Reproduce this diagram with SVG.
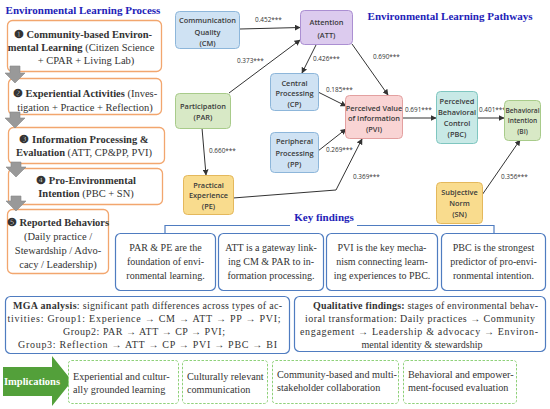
<svg xmlns="http://www.w3.org/2000/svg" width="550" height="409" viewBox="0 0 550 409">
<defs>
<marker id="ah" viewBox="0 0 10 10" refX="9" refY="5" markerWidth="6" markerHeight="6" orient="auto" markerUnits="userSpaceOnUse"><path d="M0,0 L10,5 L0,10 z" fill="#333"/></marker>
<style>
.ttl{font-family:"Liberation Serif",serif;font-weight:bold;fill:#2222b8;font-size:11px;text-anchor:middle}
.proc{fill:#fff;stroke:#f2a66e;stroke-width:1.3}
.pt{font-family:"Liberation Serif","DejaVu Serif",serif;font-size:10.5px;fill:#333;text-anchor:middle}
.b{font-weight:bold}
.garr{fill:#999;stroke:#888;stroke-width:0.6}
.nt{font-family:"Open Sans","Noto Sans",sans-serif;font-weight:600;font-size:7.4px;fill:#3a3a3a;text-anchor:middle}
.cf{font-family:"Open Sans","Noto Sans",sans-serif;font-size:6.4px;fill:#333}
.con{fill:none;stroke:#333;stroke-width:1;marker-end:url(#ah)}
.fb{fill:#fff;stroke:#4f7cc0;stroke-width:1.2}
.ft{font-family:"Liberation Serif",serif;font-size:10px;fill:#333;text-anchor:middle}
.ib{fill:#fff;stroke:#8fd17a;stroke-width:1;stroke-dasharray:2.5,1.5}
.it{font-family:"Liberation Serif",serif;font-size:10.2px;fill:#333}
.blue{fill:#cfe2f3;stroke:#8db6da}
.purp{fill:#dccbee;stroke:#ab8fd2}
.grn{fill:#d8e9c6;stroke:#a8cb8a}
.pink{fill:#f9d4d4;stroke:#e3a0a0}
.teal{fill:#c8e9e6;stroke:#7fc6c0}
.yel{fill:#f9dc8e;stroke:#e4b85c}
</style>
</defs>
<rect width="550" height="409" fill="#fff"/>

<text class="ttl" x="83" y="14">Environmental Learning Process</text>
<text class="ttl" x="450" y="20">Environmental Learning Pathways</text>
<text class="ttl" x="324" y="221">Key findings</text>

<!-- Process boxes -->
<g id="step1"><rect class="proc" x="7.5" y="20.5" width="154" height="51" rx="5"/>
<text class="pt" x="83" y="38"><tspan class="b">❶ Community-based Environ-</tspan></text>
<text class="pt" x="81" y="51"><tspan class="b">mental Learning</tspan> (Citizen Science</text>
<text class="pt" x="86" y="64">+ CPAR + Living Lab)</text></g>
<g id="step2"><rect class="proc" x="8.5" y="78.5" width="153" height="36" rx="5"/>
<text class="pt" x="85" y="97"><tspan class="b">❷ Experiential Activities</tspan> (Inves-</text>
<text class="pt" x="85" y="111">tigation + Practice + Reflection)</text></g>
<g id="step3"><rect class="proc" x="8.5" y="127.5" width="156" height="36" rx="5"/>
<text class="pt" x="84" y="143"><tspan class="b">❸ Information Processing &amp;</tspan></text>
<text class="pt" x="84" y="156"><tspan class="b">Evaluation</tspan> (ATT, CP&amp;PP, PVI)</text></g>
<g id="step4"><rect class="proc" x="8.5" y="168.5" width="154" height="36" rx="5"/>
<text class="pt" x="86" y="184"><tspan class="b">❹ Pro-Environmental</tspan></text>
<text class="pt" x="86" y="197"><tspan class="b">Intention</tspan> (PBC + SN)</text></g>
<g id="step5"><rect class="proc" x="7.5" y="209.5" width="101" height="64" rx="5"/>
<text class="pt" x="58" y="226"><tspan class="b">❺ Reported Behaviors</tspan></text>
<text class="pt" x="58" y="240">(Daily practice /</text>
<text class="pt" x="58" y="254">Stewardship / Advo-</text>
<text class="pt" x="58" y="268">cacy / Leadership)</text></g>

<g id="process-arrows">
<path class="garr" d="M10,66 h10 v7 h5 l-10,10 l-10,-10 h5 z"/>
<path class="garr" d="M10,112 h10 v6 h5 l-10,10 l-10,-10 h5 z"/>
<path class="garr" d="M11,162 h10 v5 h5 l-10,10 l-10,-10 h5 z"/>
<path class="garr" d="M11,196 h10 v5 h5 l-10,10 l-10,-10 h5 z"/>
</g>

<!-- Connectors -->
<g id="connectors">
<line class="con" x1="240" y1="29" x2="300" y2="27.5"/>
<line class="con" x1="229" y1="93" x2="300" y2="40"/>
<line class="con" x1="316" y1="45" x2="302" y2="73"/>
<line class="con" x1="352" y1="44" x2="388" y2="95"/>
<line class="con" x1="318" y1="92" x2="346" y2="106"/>
<line class="con" x1="318" y1="151" x2="346" y2="129"/>
<polyline class="con" points="233,198 336,190 362,139"/>
<line class="con" x1="202" y1="128" x2="206" y2="175"/>
<line class="con" x1="402" y1="118" x2="436" y2="118"/>
<line class="con" x1="477" y1="118" x2="504" y2="118"/>
<line class="con" x1="482" y1="195" x2="520" y2="140"/>
<text class="cf" x="255" y="22">0.452***</text>
<text class="cf" x="237" y="63">0.373***</text>
<text class="cf" x="313" y="61">0.426***</text>
<text class="cf" x="373" y="59">0.690***</text>
<text class="cf" x="326" y="92">0.185***</text>
<text class="cf" x="326" y="152">0.269***</text>
<text class="cf" x="353" y="179">0.369***</text>
<text class="cf" x="209" y="153">0.660***</text>
<text class="cf" x="405" y="112">0.691***</text>
<text class="cf" x="479" y="112">0.401***</text>
<text class="cf" x="501" y="179">0.356***</text>
</g>

<!-- Nodes -->
<g id="CM"><rect class="blue" x="175.5" y="11.5" width="64" height="37" rx="4"/>
<text class="nt" x="207.5" y="23">Communication</text><text class="nt" x="207.5" y="34.5">Quality</text><text class="nt" x="207.5" y="45.5">(CM)</text></g>
<g id="ATT"><rect class="purp" x="300.5" y="10.5" width="52" height="34" rx="4"/>
<text class="nt" x="326.5" y="24.5">Attention</text><text class="nt" x="326.5" y="37.5">(ATT)</text></g>
<g id="CP"><rect class="blue" x="270.5" y="73.5" width="48" height="37" rx="4"/>
<text class="nt" x="294.5" y="85.5">Central</text><text class="nt" x="294.5" y="96">Processing</text><text class="nt" x="294.5" y="106.5">(CP)</text></g>
<g id="PAR"><rect class="grn" x="175.5" y="93.5" width="55" height="35" rx="4"/>
<text class="nt" x="203" y="108.5">Participation</text><text class="nt" x="203" y="120">(PAR)</text></g>
<g id="PVI"><rect class="pink" x="345.5" y="95.5" width="57" height="43" rx="4"/>
<text class="nt" x="374" y="110.5">Perceived Value</text><text class="nt" x="374" y="121">of Information</text><text class="nt" x="374" y="131.5">(PVI)</text></g>
<g id="PBC"><rect class="teal" x="436.5" y="91.5" width="41" height="52" rx="4"/>
<text class="nt" x="457" y="103.5">Perceived</text><text class="nt" x="457" y="114.5">Behavioral</text><text class="nt" x="457" y="125.5">Control</text><text class="nt" x="457" y="136.5">(PBC)</text></g>
<g id="BI"><rect class="grn" x="504.5" y="100.5" width="36" height="40" rx="4"/>
<text class="nt" x="522.5" y="112.5" style="font-size:6.6px">Behavioral</text><text class="nt" x="522.5" y="123" style="font-size:6.6px">Intention</text><text class="nt" x="522.5" y="133.5" style="font-size:6.6px">(BI)</text></g>
<g id="PP"><rect class="blue" x="270.5" y="132.5" width="48" height="40" rx="4"/>
<text class="nt" x="294.5" y="144">Peripheral</text><text class="nt" x="294.5" y="155.5">Processing</text><text class="nt" x="294.5" y="166.5">(PP)</text></g>
<g id="PE"><rect class="yel" x="183.5" y="175.5" width="50" height="39" rx="4"/>
<text class="nt" x="208.5" y="187.5">Practical</text><text class="nt" x="208.5" y="198">Experience</text><text class="nt" x="208.5" y="209">(PE)</text></g>
<g id="SN"><rect class="yel" x="436.5" y="182.5" width="46" height="41" rx="4"/>
<text class="nt" x="459.5" y="194.5">Subjective</text><text class="nt" x="459.5" y="205.5">Norm</text><text class="nt" x="459.5" y="216.5">(SN)</text></g>

<!-- Key findings -->
<g id="bracket"><path d="M165,233 V225.5 H290 M357,225.5 H494 V233" fill="none" stroke="#4f7cc0" stroke-width="1.2"/></g>
<g id="findA"><rect class="fb" x="115.5" y="233.5" width="100" height="57" rx="5"/>
<text class="ft" x="165.5" y="250.5">PAR &amp; PE are the</text><text class="ft" x="165.5" y="264.5">foundation of envi-</text><text class="ft" x="165.5" y="278.5">ronmental learning.</text></g>
<g id="findB"><rect class="fb" x="218.5" y="233.5" width="105" height="57" rx="5"/>
<text class="ft" x="271" y="250.5">ATT is a gateway link-</text><text class="ft" x="271" y="264.5">ing CM &amp; PAR to in-</text><text class="ft" x="271" y="278.5">formation processing.</text></g>
<g id="findC"><rect class="fb" x="326.5" y="233.5" width="111" height="57" rx="5"/>
<text class="ft" x="382" y="250.5">PVI is the key mecha-</text><text class="ft" x="382" y="264.5">nism connecting learn-</text><text class="ft" x="382" y="278.5">ing experiences to PBC.</text></g>
<g id="findD"><rect class="fb" x="441.5" y="233.5" width="104" height="57" rx="5"/>
<text class="ft" x="493.5" y="250.5">PBC is the strongest</text><text class="ft" x="493.5" y="264.5">predictor of pro-envi-</text><text class="ft" x="493.5" y="278.5">ronmental intention.</text></g>

<g id="MGA"><rect class="fb" x="5.5" y="296.5" width="284" height="57" rx="5"/>
<text class="ft" x="147.5" y="309" textLength="269" lengthAdjust="spacing"><tspan class="b">MGA analysis</tspan>: significant path differences across types of ac-</text>
<text class="ft" x="144" y="322" textLength="273" lengthAdjust="spacing">tivities: Group1: Experience → CM → ATT → PP → PVI;</text>
<text class="ft" x="144" y="335" textLength="162" lengthAdjust="spacing">Group2: PAR → ATT → CP → PVI;</text>
<text class="ft" x="147.5" y="348" textLength="259" lengthAdjust="spacing">Group3: Reflection → ATT → CP → PVI → PBC → BI</text></g>

<g id="QUAL"><rect class="fb" x="294.5" y="296.5" width="251" height="55" rx="5"/>
<text class="ft" x="425.5" y="309" textLength="225" lengthAdjust="spacing"><tspan class="b">Qualitative findings:</tspan> stages of environmental behav-</text>
<text class="ft" x="420" y="322" textLength="230" lengthAdjust="spacing">ioral transformation: Daily practices → Community</text>
<text class="ft" x="419" y="335" textLength="238" lengthAdjust="spacing">engagement → Leadership &amp; advocacy → Environ-</text>
<text class="ft" x="422" y="348">mental identity &amp; stewardship</text></g>

<!-- Implications -->
<g id="implications"><path d="M3,367 H52 V356 L72,381 L52,406 V396 H3 z" fill="#53a03a"/>
<text x="32" y="385" style="font-family:'Liberation Serif',serif;font-weight:bold;font-size:10.5px;fill:#fff;text-anchor:middle">Implications</text></g>
<g id="imp1"><rect class="ib" x="68.5" y="360.5" width="110" height="43" rx="3"/>
<text class="it" x="73" y="380">Experiential and cultur-</text><text class="it" x="73" y="393">ally grounded learning</text></g>
<g id="imp2"><rect class="ib" x="182.5" y="360.5" width="85" height="43" rx="3"/>
<text class="it" x="187" y="380">Culturally relevant</text><text class="it" x="187" y="393">communication</text></g>
<g id="imp3"><rect class="ib" x="272.5" y="360.5" width="126" height="43" rx="3"/>
<text class="it" x="277" y="378">Community-based and multi-</text><text class="it" x="277" y="391">stakeholder collaboration</text></g>
<g id="imp4"><rect class="ib" x="403.5" y="360.5" width="113" height="43" rx="3"/>
<text class="it" x="408" y="378">Behavioral and empower-</text><text class="it" x="408" y="391">ment-focused evaluation</text></g>
</svg>
